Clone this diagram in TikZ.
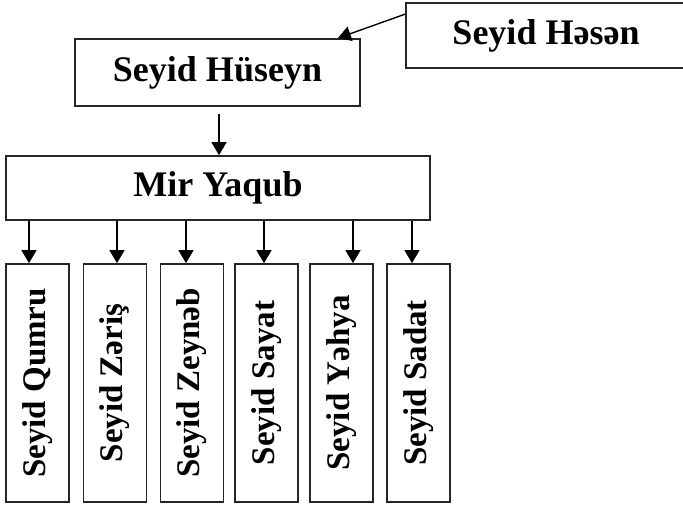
\documentclass[tikz,border=0pt]{standalone}
\usepackage{fontspec}
\setmainfont{Liberation Serif}
\usetikzlibrary{arrows.meta,calc}
\begin{document}
\begin{tikzpicture}[x=1pt,y=1pt,
  box/.style={draw=black!85,line width=1.7pt,rectangle,inner sep=0pt,fill=white},
  hbox/.style={box,font=\fontsize{36}{40}\selectfont\bfseries},
  vbox/.style={box,minimum width=63pt,minimum height=238pt},
  vtext/.style={rotate=90,font=\fontsize{33}{36}\selectfont\bfseries,inner sep=0pt},
  arr/.style={line width=1.4pt,-{Triangle[length=13pt,width=15pt]}}]
\useasboundingbox (0,0) rectangle (683,505);
\fill[white] (0,0) rectangle (683,505);
\node[hbox,minimum width=280pt,minimum height=65pt] (hs) at (546,469.5) {Seyid Həsən};
\node[hbox,minimum width=285pt,minimum height=67pt] (hu) at (217.5,432.5) {Seyid Hüseyn};
\node[hbox,minimum width=424pt,minimum height=64pt] (my) at (218,317) {Mir Yaqub};
\node[vbox] (c1) at (37.5,122) {};
\node[vbox] (c2) at (115,122) {};
\node[vbox] (c3) at (192,122) {};
\node[vbox] (c4) at (266.5,122) {};
\node[vbox] (c5) at (341.5,122) {};
\node[vbox] (c6) at (418.5,122) {};
\node[vtext] (t1) at (c1) {Seyid Qumru};
\node[vtext] (t2) at (c2) {Seyid Zəriş};
\node[vtext] (t3) at (c3) {Seyid Zeynəb};
\node[vtext] (t4) at (c4) {Seyid Sayat};
\node[vtext] (t5) at (c5) {Seyid Yəhya};
\node[vtext] (t6) at (c6) {Seyid Sadat};
\draw[arr] ($(hs.north west)+(0,-12)$) -- ($(hu.north east)+(-23,0)$);
\draw[arr,shorten <=7pt] (hu.south -| 219,0) -- (my.north -| 219,0);
\foreach \i/\x in {1/29,2/117,3/186,4/264,5/353,6/412}{
  \draw[arr] (my.south -| \x,0) -- (c\i.north -| \x,0);
}
\end{tikzpicture}
\end{document}
